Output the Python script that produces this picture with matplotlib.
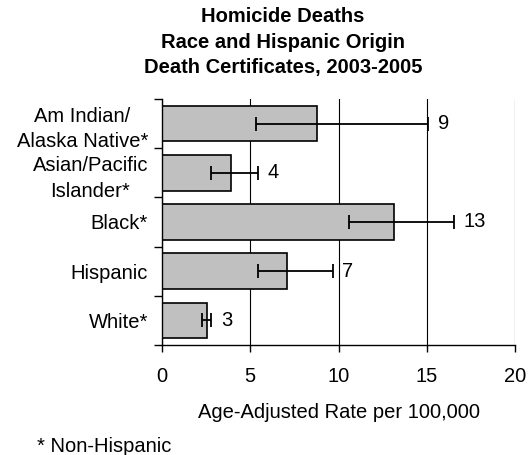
import numpy as np
import matplotlib.pyplot as plt

plt.rcParams['font.family'] = ['Liberation Sans', 'DejaVu Sans']

# data
groups = ['Am Indian/\nAlaska Native*', 'Asian/Pacific\nIslander*', 'Black*', 'Hispanic', 'White*']
rates = [8.77, 3.89, 13.14, 7.06, 2.53]
ci_low = [5.33, 2.80, 10.60, 5.42, 2.25]
ci_high = [15.07, 5.42, 16.54, 9.67, 2.78]
labels = ['9', '4', '13', '7', '3']
xticks = [0, 5, 10, 15, 20]

fs = 14.5

fig = plt.figure(figsize=(5.28, 4.55), dpi=100)
ax = fig.add_axes([162/528, 1-345/455, (515-162)/528, (345-99)/455])

y = np.arange(len(groups))
rates = np.array(rates)
err = np.array([rates - np.array(ci_low), np.array(ci_high) - rates])

ax.barh(y, rates, height=0.72, color='#C0C0C0', edgecolor='black', linewidth=1.2, zorder=2)
ax.errorbar(rates, y, xerr=err, fmt='none', ecolor='black', elinewidth=1.3,
            capsize=4.7, capthick=1.3, zorder=3)

for yi, hi, lab in zip(y, ci_high, labels):
    ax.annotate(lab, (hi, yi), xytext=(7, 0), textcoords='offset points',
                va='center', ha='left', fontsize=fs)

ax.set_xlim(0, 20)
ax.set_ylim(len(groups)-0.5, -0.5)
ax.set_xticks(xticks)
ax.set_xticklabels([str(t) for t in xticks], fontsize=fs)
ax.tick_params(axis='x', length=5, width=1, pad=11)
ax.grid(axis='x', color='black', linewidth=0.8, zorder=0)

ax.set_yticks(np.arange(len(groups)+1) - 0.5)
ax.set_yticklabels([])
ax.set_yticks(y, minor=True)
ax.set_yticklabels(groups, minor=True, fontsize=fs, ha='right', multialignment='center',
                   linespacing=1.45)
ax.tick_params(axis='y', which='major', length=6, width=1)
ax.tick_params(axis='y', which='minor', length=0, pad=10)

for s in ['top', 'right']:
    ax.spines[s].set_visible(False)
ax.spines['left'].set_linewidth(1)
ax.spines['bottom'].set_linewidth(1)

ax.set_xlabel('Age-Adjusted Rate per 100,000', fontsize=fs, labelpad=12)

fig.text(283/528, 1-42/455, 'Homicide Deaths\nRace and Hispanic Origin\nDeath Certificates, 2003-2005',
         ha='center', va='center', fontsize=14.5, fontweight='bold', linespacing=1.42)
fig.text(37/528, 1-447/455, '* Non-Hispanic', ha='left', va='center', fontsize=fs)

fig.savefig('out.png', dpi=100)
